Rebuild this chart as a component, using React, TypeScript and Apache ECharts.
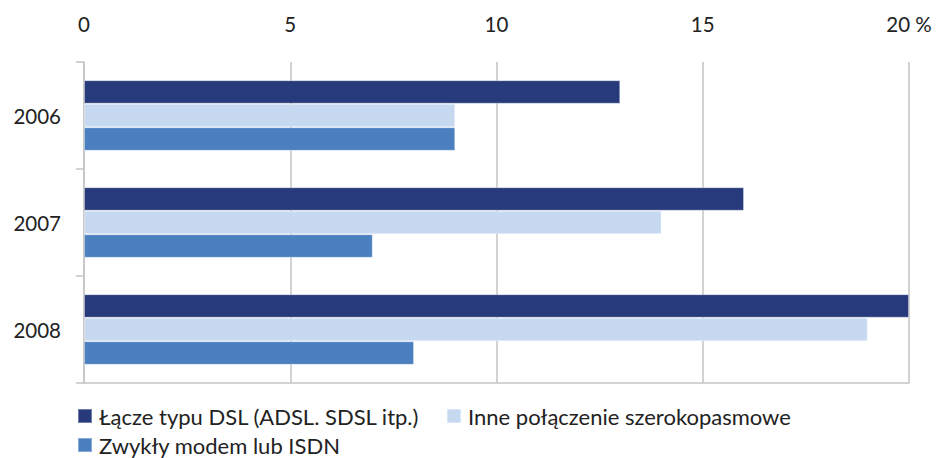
import React, { useEffect, useRef } from "react";
import * as echarts from "echarts";

const categories = ["2006", "2007", "2008"];
const seriesNames = [
  "Łącze typu DSL (ADSL. SDSL itp.)",
  "Inne połączenie szerokopasmowe",
  "Zwykły modem lub ISDN",
];
const dslValues = [13, 16, 20];
const otherBroadbandValues = [9, 14, 19];
const modemValues = [9, 7, 8];
const seriesColors = ["#263A7C", "#C6D9F0", "#4A7FC0"];
const axisTicks = [0, 5, 10, 15, 20];

const FONT = "Lato, 'Open Sans', 'Noto Sans', sans-serif";
const TEXT = "#222222";
const GRID = "#C4C4C4";

export default function App() {
  const ref = useRef<HTMLDivElement>(null);
  useEffect(() => {
    if (!ref.current) return;
    const chart = echarts.init(ref.current, null, { renderer: "svg" });
    const values = [dslValues, otherBroadbandValues, modemValues];
    const legendPos = [
      { left: 77, top: 405 },
      { left: 446, top: 405 },
      { left: 77, top: 434 },
    ];
    chart.setOption({
      animation: false,
      textStyle: { fontFamily: FONT },
      grid: { left: 84, right: 38, top: 62, bottom: 75, containLabel: false },
      legend: seriesNames.map((n, i) => ({
        data: [n],
        left: legendPos[i].left,
        top: legendPos[i].top,
        icon: "rect",
        itemWidth: 14,
        itemHeight: 14,
        itemGap: 0,
        padding: 0,
        textStyle: {
          fontFamily: FONT,
          fontSize: 22,
          lineHeight: 22,
          color: TEXT,
          padding: [0, 0, 0, 2],
        },
        selectedMode: false,
      })),
      xAxis: [
        {
          type: "value",
          position: "top",
          min: axisTicks[0],
          max: axisTicks[axisTicks.length - 1],
          interval: 5,
          axisLine: { show: false },
          axisTick: { show: false },
          axisLabel: {
            margin: 28,
            fontSize: 20.5,
            color: TEXT,
            fontFamily: FONT,
            formatter: (v: number) => (v === 20 ? "20 %" : String(v)),
          },
          splitLine: { show: true, lineStyle: { color: GRID, width: 1.5 } },
        },
        {
          type: "value",
          position: "bottom",
          min: 0,
          max: 20,
          interval: 5,
          axisLine: { show: true, lineStyle: { color: GRID, width: 1.5 } },
          axisTick: { show: false },
          axisLabel: { show: false },
          splitLine: { show: false },
        },
      ],
      yAxis: {
        type: "category",
        data: categories,
        inverse: true,
        axisLine: { show: true, lineStyle: { color: GRID, width: 1.5 } },
        axisTick: { show: true, length: 8, lineStyle: { color: GRID, width: 1.5 } },
        axisLabel: { margin: 23, fontSize: 20.5, color: TEXT, fontFamily: FONT },
      },
      series: seriesNames.map((n, i) => ({
        name: n,
        type: "bar",
        xAxisIndex: 0,
        data: values[i],
        barGap: "0%",
        barCategoryGap: "34%",
        itemStyle: {
          color: seriesColors[i],
          borderColor: "rgba(255,255,255,0.35)",
          borderWidth: 1,
        },
      })),
    });
    return () => chart.dispose();
  }, []);
  return (
    <div
      ref={ref}
      style={{ position: "fixed", left: 0, top: 0, width: 947, height: 458, background: "#fff" }}
    />
  );
}
